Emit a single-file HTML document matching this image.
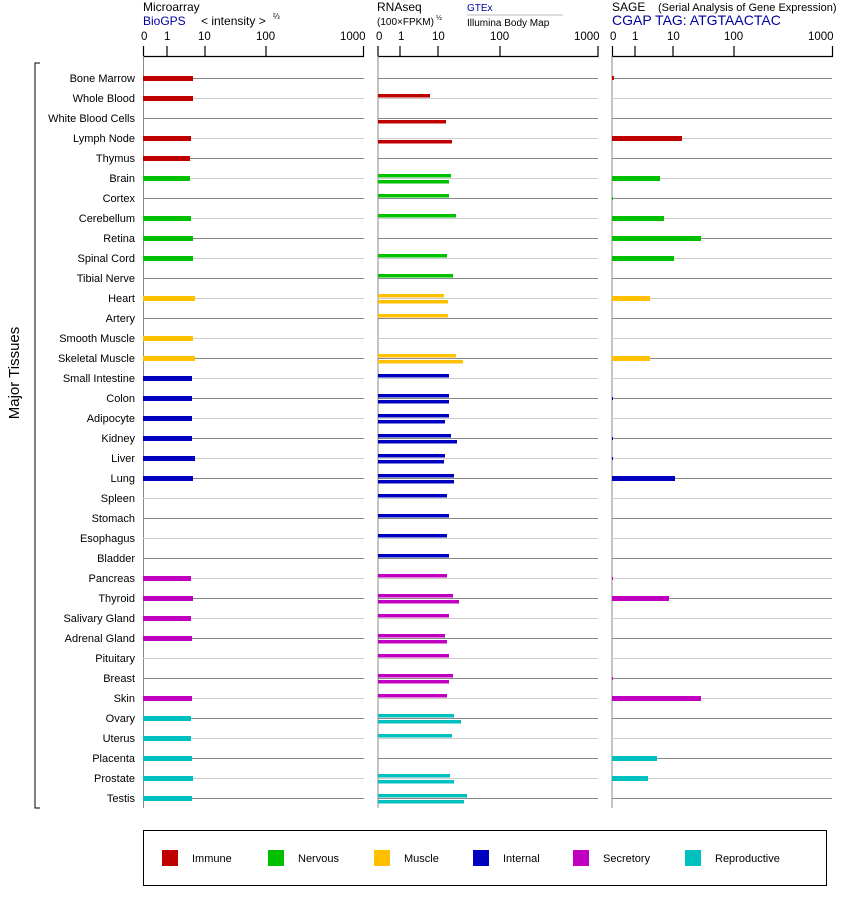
<!DOCTYPE html>
<html><head><meta charset="utf-8"><style>
body{margin:0;background:#fff}
svg{display:block;font-family:"Liberation Sans",Arial,sans-serif}
</style></head><body>
<svg width="842" height="900" viewBox="0 0 842 900" xmlns="http://www.w3.org/2000/svg">
<g font-size="12" fill="#000">
<text x="143" y="11">Microarray</text>
<text x="143" y="25" fill="#0000a0">BioGPS</text>
<text x="201" y="25">&lt; intensity &gt;</text>
<text x="273" y="19" font-size="8">⅔</text>
<text x="377" y="11">RNAseq</text>
<text x="377" y="25" font-size="10">(100×FPKM)</text>
<text x="436" y="20" font-size="7">½</text>
<text x="467" y="11" font-size="10" fill="#0000a0">GTEx</text>
<line x1="467" y1="15" x2="563" y2="15" stroke="#bbb"/>
<text x="467" y="26" font-size="10">Illumina Body Map</text>
<text x="612" y="11">SAGE</text>
<text x="658" y="11" font-size="11">(Serial Analysis of Gene Expression)</text>
<text x="612" y="25" fill="#0000a0" font-size="14">CGAP TAG: ATGTAACTAC</text>
</g>
<g font-size="11.5" fill="#000">
<text x="141" y="40">0</text><text x="164" y="40">1</text><text x="198" y="40">10</text><text x="256" y="40">100</text><text x="340" y="40">1000</text>
<text x="376" y="40">0</text><text x="398" y="40">1</text><text x="432" y="40">10</text><text x="490" y="40">100</text><text x="574" y="40">1000</text>
<text x="610" y="40">0</text><text x="632" y="40">1</text><text x="667" y="40">10</text><text x="724" y="40">100</text><text x="808" y="40">1000</text>
</g>
<g stroke="#000" stroke-width="1.2" fill="none">
<path d="M143.5 46V56.5H363.5V46M167 46V56M205 46V56M266 46V56"/>
<path d="M378 46V56.5H598V46M400 46V56M438 46V56M500 46V56"/>
<path d="M612.5 46V56.5H832.5V46M635 46V56M673 46V56M734 46V56"/>
</g>
<g stroke="#888" stroke-width="1">
<line x1="143.5" y1="56" x2="143.5" y2="808"/>
<line x1="378" y1="56" x2="378" y2="808"/>
<line x1="612" y1="56" x2="612" y2="808"/>
</g>
<g id="rows">
<g stroke="#888"><path d="M143 78.5H364M378 78.5H598M612 78.5H832M143 118.5H364M378 118.5H598M612 118.5H832M143 158.5H364M378 158.5H598M612 158.5H832M143 198.5H364M378 198.5H598M612 198.5H832M143 238.5H364M378 238.5H598M612 238.5H832M143 278.5H364M378 278.5H598M612 278.5H832M143 318.5H364M378 318.5H598M612 318.5H832M143 358.5H364M378 358.5H598M612 358.5H832M143 398.5H364M378 398.5H598M612 398.5H832M143 438.5H364M378 438.5H598M612 438.5H832M143 478.5H364M378 478.5H598M612 478.5H832M143 518.5H364M378 518.5H598M612 518.5H832M143 558.5H364M378 558.5H598M612 558.5H832M143 598.5H364M378 598.5H598M612 598.5H832M143 638.5H364M378 638.5H598M612 638.5H832M143 678.5H364M378 678.5H598M612 678.5H832M143 718.5H364M378 718.5H598M612 718.5H832M143 758.5H364M378 758.5H598M612 758.5H832M143 798.5H364M378 798.5H598M612 798.5H832"/></g>
<g stroke="#ccc"><path d="M143 98.5H364M378 98.5H598M612 98.5H832M143 138.5H364M378 138.5H598M612 138.5H832M143 178.5H364M378 178.5H598M612 178.5H832M143 218.5H364M378 218.5H598M612 218.5H832M143 258.5H364M378 258.5H598M612 258.5H832M143 298.5H364M378 298.5H598M612 298.5H832M143 338.5H364M378 338.5H598M612 338.5H832M143 378.5H364M378 378.5H598M612 378.5H832M143 418.5H364M378 418.5H598M612 418.5H832M143 458.5H364M378 458.5H598M612 458.5H832M143 498.5H364M378 498.5H598M612 498.5H832M143 538.5H364M378 538.5H598M612 538.5H832M143 578.5H364M378 578.5H598M612 578.5H832M143 618.5H364M378 618.5H598M612 618.5H832M143 658.5H364M378 658.5H598M612 658.5H832M143 698.5H364M378 698.5H598M612 698.5H832M143 738.5H364M378 738.5H598M612 738.5H832M143 778.5H364M378 778.5H598M612 778.5H832"/></g>
</g>
<g font-size="11" text-anchor="end" fill="#000">
<text x="135" y="82">Bone Marrow</text><text x="135" y="102">Whole Blood</text><text x="135" y="122">White Blood Cells</text><text x="135" y="142">Lymph Node</text><text x="135" y="162">Thymus</text><text x="135" y="182">Brain</text><text x="135" y="202">Cortex</text><text x="135" y="222">Cerebellum</text><text x="135" y="242">Retina</text><text x="135" y="262">Spinal Cord</text><text x="135" y="282">Tibial Nerve</text><text x="135" y="302">Heart</text><text x="135" y="322">Artery</text><text x="135" y="342">Smooth Muscle</text><text x="135" y="362">Skeletal Muscle</text><text x="135" y="382">Small Intestine</text><text x="135" y="402">Colon</text><text x="135" y="422">Adipocyte</text><text x="135" y="442">Kidney</text><text x="135" y="462">Liver</text><text x="135" y="482">Lung</text><text x="135" y="502">Spleen</text><text x="135" y="522">Stomach</text><text x="135" y="542">Esophagus</text><text x="135" y="562">Bladder</text><text x="135" y="582">Pancreas</text><text x="135" y="602">Thyroid</text><text x="135" y="622">Salivary Gland</text><text x="135" y="642">Adrenal Gland</text><text x="135" y="662">Pituitary</text><text x="135" y="682">Breast</text><text x="135" y="702">Skin</text><text x="135" y="722">Ovary</text><text x="135" y="742">Uterus</text><text x="135" y="762">Placenta</text><text x="135" y="782">Prostate</text><text x="135" y="802">Testis</text>
</g>
<path d="M40 63H35V808H40" stroke="#000" fill="none"/>
<text transform="translate(19,373) rotate(-90)" text-anchor="middle" font-size="15">Major Tissues</text>
<g fill="#c00000"><rect x="143" y="76" width="50" height="5"/><rect x="143" y="96" width="50" height="5"/><rect x="143" y="136" width="48" height="5"/><rect x="143" y="156" width="47" height="5"/>
<rect x="378" y="94" width="52" height="3.5"/><rect x="378" y="120" width="68" height="3.5"/><rect x="378" y="140" width="74" height="3.5"/>
<rect x="612" y="76" width="2" height="4"/><rect x="612" y="136" width="70" height="5"/></g>
<g fill="#00c000"><rect x="143" y="176" width="47" height="5"/><rect x="143" y="216" width="48" height="5"/><rect x="143" y="236" width="50" height="5"/><rect x="143" y="256" width="50" height="5"/>
<rect x="378" y="174" width="73" height="3.5"/><rect x="378" y="180" width="71" height="3.5"/><rect x="378" y="194" width="71" height="3.5"/><rect x="378" y="214" width="78" height="3.5"/><rect x="378" y="254" width="69" height="3.5"/><rect x="378" y="274" width="75" height="3.5"/>
<rect x="612" y="176" width="48" height="5"/><rect x="612" y="197" width="1" height="3"/><rect x="612" y="216" width="52" height="5"/><rect x="612" y="236" width="89" height="5"/><rect x="612" y="256" width="62" height="5"/></g>
<g fill="#ffc000"><rect x="143" y="296" width="52" height="5"/><rect x="143" y="336" width="50" height="5"/><rect x="143" y="356" width="52" height="5"/>
<rect x="378" y="294" width="66" height="3.5"/><rect x="378" y="300" width="70" height="3.5"/><rect x="378" y="314" width="70" height="3.5"/><rect x="378" y="354" width="78" height="3.5"/><rect x="378" y="360" width="85" height="3.5"/>
<rect x="612" y="296" width="38" height="5"/><rect x="612" y="356" width="38" height="5"/></g>
<g fill="#0000c0"><rect x="143" y="376" width="49" height="5"/><rect x="143" y="396" width="49" height="5"/><rect x="143" y="416" width="49" height="5"/><rect x="143" y="436" width="49" height="5"/><rect x="143" y="456" width="52" height="5"/><rect x="143" y="476" width="50" height="5"/>
<rect x="378" y="374" width="71" height="3.5"/><rect x="378" y="394" width="71" height="3.5"/><rect x="378" y="400" width="71" height="3.5"/><rect x="378" y="414" width="71" height="3.5"/><rect x="378" y="420" width="67" height="3.5"/><rect x="378" y="434" width="73" height="3.5"/><rect x="378" y="440" width="79" height="3.5"/><rect x="378" y="454" width="67" height="3.5"/><rect x="378" y="460" width="66" height="3.5"/><rect x="378" y="474" width="76" height="3.5"/><rect x="378" y="480" width="76" height="3.5"/><rect x="378" y="494" width="69" height="3.5"/><rect x="378" y="514" width="71" height="3.5"/><rect x="378" y="534" width="69" height="3.5"/><rect x="378" y="554" width="71" height="3.5"/>
<rect x="612" y="397" width="1" height="3"/><rect x="612" y="437" width="1" height="3"/><rect x="612" y="457" width="1" height="3"/><rect x="612" y="476" width="63" height="5"/></g>
<g fill="#c000c0"><rect x="143" y="576" width="48" height="5"/><rect x="143" y="596" width="50" height="5"/><rect x="143" y="616" width="48" height="5"/><rect x="143" y="636" width="49" height="5"/><rect x="143" y="696" width="49" height="5"/>
<rect x="378" y="574" width="69" height="3.5"/><rect x="378" y="594" width="75" height="3.5"/><rect x="378" y="600" width="81" height="3.5"/><rect x="378" y="614" width="71" height="3.5"/><rect x="378" y="634" width="67" height="3.5"/><rect x="378" y="640" width="69" height="3.5"/><rect x="378" y="654" width="71" height="3.5"/><rect x="378" y="674" width="75" height="3.5"/><rect x="378" y="680" width="71" height="3.5"/><rect x="378" y="694" width="69" height="3.5"/>
<rect x="612" y="577" width="1" height="3"/><rect x="612" y="596" width="57" height="5"/><rect x="612" y="677" width="1" height="3"/><rect x="612" y="696" width="89" height="5"/></g>
<g fill="#00c0c0"><rect x="143" y="716" width="48" height="5"/><rect x="143" y="736" width="48" height="5"/><rect x="143" y="756" width="49" height="5"/><rect x="143" y="776" width="50" height="5"/><rect x="143" y="796" width="49" height="5"/>
<rect x="378" y="714" width="76" height="3.5"/><rect x="378" y="720" width="83" height="3.5"/><rect x="378" y="734" width="74" height="3.5"/><rect x="378" y="774" width="72" height="3.5"/><rect x="378" y="780" width="76" height="3.5"/><rect x="378" y="794" width="89" height="3.5"/><rect x="378" y="800" width="86" height="3.5"/>
<rect x="612" y="756" width="45" height="5"/><rect x="612" y="776" width="36" height="5"/></g>
<rect x="143.5" y="830.5" width="683" height="55" fill="none" stroke="#000"/>
<g font-size="11">
<rect x="162" y="850" width="16" height="16" fill="#c00000"/><text x="192" y="862">Immune</text>
<rect x="268" y="850" width="16" height="16" fill="#00c000"/><text x="298" y="862">Nervous</text>
<rect x="374" y="850" width="16" height="16" fill="#ffc000"/><text x="404" y="862">Muscle</text>
<rect x="473" y="850" width="16" height="16" fill="#0000c0"/><text x="503" y="862">Internal</text>
<rect x="573" y="850" width="16" height="16" fill="#c000c0"/><text x="603" y="862">Secretory</text>
<rect x="685" y="850" width="16" height="16" fill="#00c0c0"/><text x="715" y="862">Reproductive</text>
</g>
</svg>
</body></html>
